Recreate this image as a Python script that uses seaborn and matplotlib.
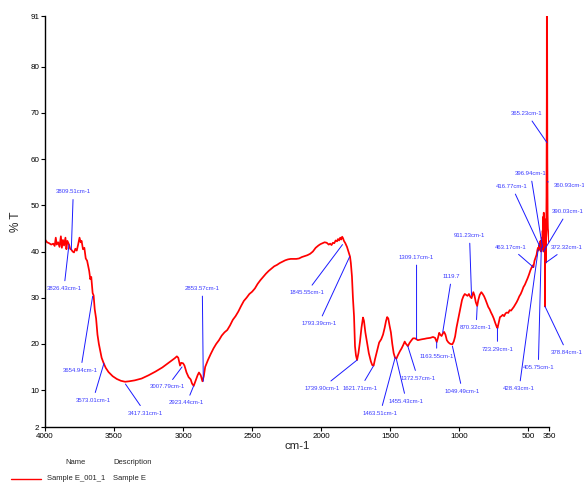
import matplotlib
matplotlib.use("Agg")
import matplotlib.pyplot as plt
from matplotlib.lines import Line2D
from matplotlib import font_manager
import pandas as pd
import seaborn as sns

# FTIR spectrum of Sample E: wavenumber (cm-1) and transmittance (%T)
wavenumber = [
    4000, 3985, 3970, 3955, 3940, 3930, 3922, 3915, 3905, 3895, 3885, 3878, 3870, 3862,
    3852, 3845, 3838, 3826, 3818, 3809, 3800, 3790, 3780, 3770, 3760, 3750, 3742, 3735,
    3725, 3715, 3705, 3695, 3688, 3680, 3672, 3665, 3655, 3648, 3640, 3630, 3620, 3610,
    3600, 3590, 3575, 3560, 3540, 3510, 3480, 3450, 3420, 3390, 3350, 3300, 3250, 3200,
    3150, 3100, 3060, 3045, 3035, 3022, 3014, 3000, 2990, 2975, 2960, 2945, 2935, 2923,
    2910, 2895, 2885, 2872, 2860, 2850, 2840, 2820, 2800, 2780, 2760, 2740, 2720, 2700,
    2680, 2660, 2640, 2620, 2600, 2580, 2560, 2540, 2520, 2500, 2480, 2460, 2440, 2420,
    2400, 2380, 2360, 2340, 2320, 2300, 2280, 2260, 2240, 2220, 2200, 2180, 2160, 2140,
    2120, 2100, 2080, 2060, 2040, 2020, 2005, 1990, 1975, 1960, 1945, 1935, 1925, 1915,
    1905, 1895, 1885, 1878, 1870, 1862, 1855, 1848, 1842, 1835, 1825, 1813, 1800, 1791,
    1785, 1777, 1770, 1762, 1755, 1748, 1740, 1730, 1719, 1708, 1697, 1690, 1680, 1668,
    1655, 1640, 1630, 1620, 1610, 1595, 1580, 1565, 1552, 1540, 1530, 1522, 1514, 1505,
    1495, 1485, 1475, 1465, 1455, 1445, 1430, 1418, 1405, 1395, 1388, 1380, 1372, 1360,
    1348, 1335, 1320, 1310, 1300, 1285, 1270, 1250, 1235, 1210, 1190, 1175, 1163, 1155,
    1145, 1138, 1128, 1118, 1110, 1100, 1090, 1078, 1065, 1050, 1040, 1030, 1020, 1010,
    1000, 990, 980, 970, 960, 950, 940, 930, 920, 911, 905, 898, 890, 880,
    870, 862, 852, 840, 830, 820, 810, 800, 790, 780, 770, 760, 750, 740,
    730, 723, 715, 705, 695, 685, 675, 665, 655, 645, 635, 625, 615, 605,
    595, 585, 575, 565, 555, 545, 535, 525, 515, 505, 495, 485, 475, 468,
    463, 455, 448, 440, 435, 430, 425, 420, 416, 412, 408, 405, 402, 399,
    396, 394, 392, 390, 388, 386, 384, 382, 380, 379, 378, 376, 374, 372,
    370, 368, 367, 366, 365.5, 364, 363, 362, 361, 360, 358, 355, 352, 350,
]
transmittance = [
    42.6, 42.0, 41.8, 41.5, 41.7, 41.2, 43.0, 41.5, 42.0, 41.0, 43.3, 40.8, 42.5, 41.3,
    43.0, 40.5, 42.3, 41.5, 40.6, 40.4, 40.0, 39.8, 40.6, 40.2, 41.5, 43.0, 42.0, 42.3,
    40.5, 40.8, 38.5, 38.0, 37.0, 35.8, 34.0, 34.5, 31.0, 30.5, 27.5, 25.5, 22.0, 20.0,
    18.5, 17.0, 15.8, 14.8, 13.9, 13.0, 12.4, 12.0, 11.8, 11.9, 12.1, 12.5, 13.2, 14.0,
    14.9, 16.0, 16.9, 17.3, 17.0, 15.3, 15.9, 15.8, 15.3, 13.8, 12.8, 12.3, 11.4, 10.9,
    12.0, 13.2, 13.8, 13.2, 11.9, 13.0, 15.0, 16.5, 17.8, 19.0, 20.0, 20.8, 21.8, 22.5,
    23.0, 24.0, 25.2, 26.0, 27.0, 28.2, 29.3, 30.0, 30.8, 31.3, 32.0, 33.0, 33.8, 34.5,
    35.2, 35.8, 36.3, 36.8, 37.1, 37.5, 37.8, 38.1, 38.3, 38.4, 38.4, 38.4, 38.5, 38.8,
    39.0, 39.2, 39.5, 40.0, 40.8, 41.3, 41.6, 41.8, 42.0, 41.9, 41.5, 41.7, 41.4, 41.9,
    41.8, 42.4, 42.2, 42.7, 42.4, 43.0, 42.6, 43.2, 42.9, 42.3, 41.8, 41.0, 39.8, 38.9,
    37.5, 34.6, 30.0, 26.0, 19.5, 17.5, 16.5, 18.0, 20.5, 23.5, 25.7, 25.0, 22.5, 20.3,
    18.0, 16.2, 15.4, 15.3, 16.7, 18.5, 20.3, 21.0, 22.0, 23.5, 25.0, 25.8, 25.5, 24.0,
    22.5, 20.0, 18.0, 17.0, 16.8, 17.5, 18.4, 19.0, 19.8, 20.5, 20.1, 19.8, 19.5, 20.2,
    20.7, 21.2, 21.2, 21.0, 20.8, 20.9, 21.0, 21.1, 21.2, 21.3, 21.5, 21.3, 20.4, 21.2,
    22.4, 22.0, 21.7, 22.3, 22.6, 22.0, 20.8, 20.3, 20.0, 19.9, 20.5, 21.6, 23.5, 25.0,
    26.5, 28.0, 29.5, 30.3, 30.8, 30.6, 30.4, 30.8, 30.2, 29.9, 30.5, 31.2, 30.5, 29.0,
    28.2, 29.5, 30.6, 31.2, 30.8, 30.3, 29.6, 28.8, 28.0, 27.5, 26.8, 26.2, 25.5, 24.6,
    23.8, 23.4, 24.5, 25.8, 26.0, 26.3, 26.0, 26.6, 26.8, 26.7, 27.3, 27.2, 27.6, 28.0,
    28.5, 29.0, 29.6, 30.3, 30.8, 31.5, 32.3, 32.8, 33.5, 34.2, 35.0, 35.9, 36.6, 37.0,
    36.6, 38.0, 38.6, 39.3, 40.2, 40.8, 40.2, 41.5, 40.5, 42.3, 40.0, 41.2, 43.0, 40.5,
    44.5, 41.0, 47.5, 40.0, 48.4, 41.5, 46.5, 42.0, 47.0, 28.1, 42.0, 39.0, 43.5, 37.6,
    45.0, 52.0, 64.0, 73.5, 95.0, 95.0, 73.5, 60.0, 55.1, 48.0, 45.0, 44.0, 43.0, 42.0,
]

# Labelled peaks: wavenumber label and %T at the marked point
peak_labels = [
    "3809.51cm-1", "3826.43cm-1", "3654.94cm-1", "3573.01cm-1", "3417.31cm-1",
    "3007.79cm-1", "2923.44cm-1", "2853.57cm-1", "1845.55cm-1", "1793.39cm-1",
    "1739.90cm-1", "1621.71cm-1", "1463.51cm-1", "1455.43cm-1", "1372.57cm-1",
    "1309.17cm-1", "1163.55cm-1", "1119.7", "1049.49cm-1", "911.23cm-1",
    "870.32cm-1", "723.29cm-1", "463.17cm-1", "416.77cm-1", "396.94cm-1",
    "390.03cm-1", "372.32cm-1", "378.84cm-1", "405.75cm-1", "428.43cm-1",
    "365.23cm-1", "360.93cm-1",
]
peak_wn = [
    3809.51, 3826.43, 3654.94, 3573.01, 3417.31, 3007.79, 2923.44, 2853.57, 1845.55,
    1793.39, 1739.90, 1621.71, 1463.51, 1455.43, 1372.57, 1309.17, 1163.55, 1119.7,
    1049.49, 911.23, 870.32, 723.29, 463.17, 416.77, 396.94, 390.03, 372.32, 378.84,
    405.75, 428.43, 365.23, 360.93,
]
peak_T = [
    40.4, 41.5, 30.3, 15.8, 11.3, 15.0, 10.9, 11.9, 41.5, 38.9, 16.5, 15.2, 17.1, 16.7,
    19.5, 21.0, 20.4, 22.5, 19.5, 30.5, 28.1, 23.4, 36.6, 41.1, 40.9, 40.0, 37.6, 28.1,
    40.9, 40.4, 63.6, 55.1,
]

x_ticks = [4000, 3500, 3000, 2500, 2000, 1500, 1000, 500, 350]
y_ticks = [2, 10, 20, 30, 40, 50, 60, 70, 80, 91]

# label placement (pixel offsets of each label from its peak point)
label_offsets = [
    (2, 58), (-5, -44), (-12, -74), (-11, -37), (20, -29), (-15, -20), (-7, -17),
    (-1, 93), (-36, -48), (-31, -67), (-35, -28), (-13, -22), (-15, -56), (10, -42),
    (10, -32), (0, 82), (0, -14), (9, 56), (10, -45), (-2, 60), (-1, -21), (0, -21),
    (-23, 20), (-28, 60), (-12, 74), (24, 40), (21, 15), (22, -46), (-3, -120),
    (-19, -139), (-20, 29), (22, -4),
]

sns.set_theme(style="ticks")
available = {f.name for f in font_manager.fontManager.ttflist}
if "Liberation Sans Narrow" in available:
    NARROW, squeeze = "Liberation Sans Narrow", 1.0
else:
    NARROW, squeeze = "Liberation Sans", 0.84
plt.rcParams["font.family"] = [NARROW, "DejaVu Sans"]

df = pd.DataFrame({"wavenumber": wavenumber, "T": transmittance})

fig = plt.figure(figsize=(5.84, 4.84), dpi=100)
ax = fig.add_axes([45 / 584, 1 - 427 / 484, 504 / 584, 411 / 484])

sns.lineplot(data=df, x="wavenumber", y="T", color="#ff0000", linewidth=1.25,
             ax=ax, estimator=None, sort=False, clip_on=True)

ax.set_xlim(4000, 350)
ax.set_ylim(2, 91)
ax.set_xticks(x_ticks)
ax.set_xticklabels([str(t) for t in x_ticks])
ax.set_yticks(y_ticks)
ax.set_yticklabels([str(t) for t in y_ticks])
sns.despine(ax=ax)
for side in ("left", "bottom"):
    ax.spines[side].set_color("black")
    ax.spines[side].set_linewidth(1.0)
ax.tick_params(axis="both", direction="out", length=3, width=0.8, pad=1,
               labelsize=6.9 * squeeze, colors="black")
ax.set_xlabel("cm-1", fontsize=9.8 * squeeze, labelpad=1)
ax.set_ylabel("% T", fontsize=8.5, family="Liberation Sans", labelpad=6)
ax.grid(False)

for label, wn, t, (dx, dy) in zip(peak_labels, peak_wn, peak_T, label_offsets):
    ax.annotate(label, xy=(wn, t), xytext=(dx, dy), textcoords="offset pixels",
                ha="center", va="center", fontsize=5.2 * squeeze, color="#3a3aff",
                annotation_clip=False,
                arrowprops=dict(arrowstyle="-", color="#1a1aff", lw=0.7,
                                shrinkA=1.5, shrinkB=0))

# Sample legend below the axes
legend_size = 6.6 * squeeze
fig.text(76 / 584, 1 - 463 / 484, "Name", ha="center", va="center",
         fontsize=legend_size)
fig.text(113 / 584, 1 - 463 / 484, "Description", ha="left", va="center",
         fontsize=legend_size)
fig.add_artist(Line2D([11 / 584, 41 / 584], [1 - 479 / 484, 1 - 479 / 484],
                      transform=fig.transFigure, color="#ff0000", lw=1.0))
fig.text(47 / 584, 1 - 479 / 484, "Sample E_001_1", ha="left", va="center",
         fontsize=legend_size)
fig.text(113 / 584, 1 - 479 / 484, "Sample E", ha="left", va="center",
         fontsize=legend_size)

fig.savefig("out.png", dpi=100)
